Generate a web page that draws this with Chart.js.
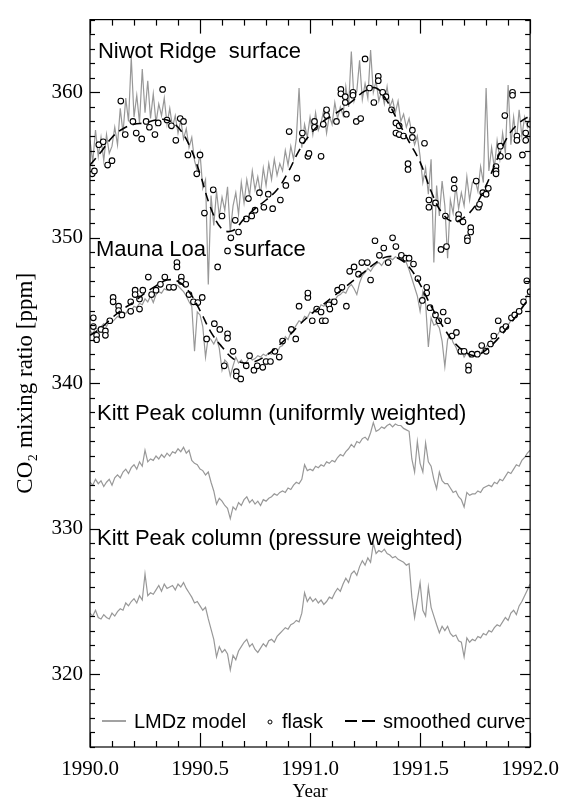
<!DOCTYPE html>
<html>
<head>
<meta charset="utf-8">
<script src="https://cdn.jsdelivr.net/npm/chart.js@4.4.0/dist/chart.umd.min.js"></script>
<style>
  html, body { margin: 0; padding: 0; background: #fff; }
  #wrap { width: 569px; height: 803px; }
</style>
</head>
<body>
<div id="wrap"><canvas id="co2Chart" width="569" height="803"></canvas></div>
<script>
// LMDz model series, one value every 1/80 year from 1990.0 to 1992.0
const MODEL_START = 1990;
const MODEL_STEP = 0.0125;

const niwotModel = [
  356.7, 355.2, 357.4, 355.6, 356.9, 355.3, 357.1, 355.8, 356.3, 357.6,
  356.4, 358.9, 357.2, 359.6, 358.0, 362.4, 358.3, 359.8, 357.9, 361.6,
  358.6, 360.8, 358.2, 359.9, 357.9, 359.2, 358.4, 359.6, 357.8, 358.9,
  357.6, 358.4, 357.2, 358.1, 356.8, 357.5, 356.2, 356.9, 355.3, 354.6,
  355.8, 353.4, 354.0, 346.8, 352.9, 350.85, 353.2, 351.5, 352.8, 351.9,
  353.5, 350.4, 352.2, 353.1, 351.6, 353.8, 352.4, 354.0, 352.9, 354.6,
  353.3, 354.2, 353.0, 354.8, 353.6, 355.1, 354.0, 355.4, 354.3, 355.1,
  354.6, 356.0, 355.0, 356.3, 355.4, 356.8, 360.3, 356.2, 357.8, 356.9,
  358.3, 357.1, 358.6, 357.4, 357.9, 358.8, 357.2, 358.4, 357.8, 359.3,
  358.2, 359.0, 358.4, 360.4, 359.0, 362.8, 359.4, 360.1, 362.2, 359.5,
  360.6, 359.6, 362.9, 360.0, 360.8, 359.4, 360.1, 359.2, 360.4, 359.0,
  359.5, 358.6, 359.4, 358.0, 358.5, 357.6, 358.2, 357.2, 356.4, 357.0,
  355.6, 353.8, 354.8, 353.0, 355.4, 348.3, 353.6, 351.5, 353.9, 352.2,
  348.6, 352.6, 351.7, 353.6, 352.0, 353.1, 352.2, 354.2, 352.6, 353.8,
  354.0, 353.2, 354.9, 353.8, 360.3, 354.6, 356.2, 354.8, 356.7, 355.4,
  357.2, 355.8, 360.5, 356.4, 358.3, 356.6, 358.8, 357.0, 358.3, 357.6,
  358.3
];

const maunaLoaModel = [
  343.6, 343.4, 343.8, 343.7, 343.9, 344.1, 343.9, 344.3, 344.2, 344.4,
  344.6, 344.5, 344.9, 344.8, 345.1, 345.0, 345.3, 345.2, 345.5, 345.4,
  345.8, 345.6, 346.0, 345.55, 346.1, 346.3, 346.2, 346.5, 346.4, 346.7,
  346.6, 346.8, 346.7, 346.5, 346.3, 346.0, 345.6, 345.3, 342.2, 344.9,
  344.7, 343.9, 341.8, 343.2, 343.0, 342.7, 343.1, 342.4, 340.9, 341.6,
  341.4, 340.5, 341.2, 341.8, 341.4, 341.6, 341.3, 341.5, 341.8, 341.6,
  341.7, 341.9, 341.8, 342.0, 341.9, 342.1, 342.0, 342.2, 342.1, 342.5,
  342.6, 343.2, 343.0, 343.5, 343.7, 344.0, 344.3, 344.2, 344.6, 344.5,
  344.9, 344.8, 345.1, 345.0, 345.4, 345.3, 345.6, 345.5, 345.8, 345.7,
  346.0, 346.1, 346.3, 346.2, 346.6, 346.8, 346.5, 346.1, 346.9, 347.4,
  347.6, 347.9, 347.7, 348.0, 348.2, 348.3, 348.1, 348.4, 348.5, 348.6,
  348.5, 348.7, 348.6, 348.7, 348.4, 348.3, 347.8, 347.2, 346.6, 346.0,
  344.95, 346.3, 345.5, 342.5, 344.5, 344.0, 344.1, 343.8, 342.9, 341.15,
  343.0, 343.4, 342.8, 342.5, 342.0, 342.3, 341.8, 342.1, 341.8, 342.0,
  342.1, 342.2, 342.0, 342.4, 342.5, 342.8, 343.0, 343.2, 343.3, 343.6,
  343.7, 343.9, 344.0, 344.3, 344.5, 344.7, 344.8, 345.2, 345.6, 346.1,
  346.3
];

const kittUniformModel = [
  333.2, 333.0, 333.4, 333.1, 333.3, 332.9, 333.2, 333.4, 333.0, 333.5,
  333.7, 333.5, 333.9, 334.1, 333.8, 334.2, 334.4, 334.1, 334.6, 334.3,
  335.4, 334.6, 334.8, 334.7, 335.0, 334.8, 335.1, 334.9, 335.2, 335.0,
  335.3, 335.2, 335.5, 335.3, 335.6, 335.2, 335.4, 334.7, 334.5, 334.4,
  334.1, 334.0, 333.7, 333.9, 333.2, 332.6, 331.7, 332.1, 331.9, 331.6,
  331.4, 330.7, 331.5, 331.3, 331.8, 331.6, 332.0, 332.2, 331.8, 332.0,
  331.7, 331.9, 331.6, 332.0, 331.9, 332.1, 332.2, 332.4, 332.3, 332.5,
  332.6, 332.5, 332.8, 332.7, 333.0, 333.2, 333.1, 333.4, 334.4, 334.0,
  334.1, 334.0, 334.3, 334.2, 334.4, 334.3, 334.6, 334.5, 334.7, 334.6,
  334.9, 335.1, 335.0, 335.3, 335.5, 335.8, 335.6, 336.0, 335.9, 336.2,
  336.3, 336.1, 336.6, 337.3, 336.7, 336.8, 337.0, 336.9, 337.1, 337.2,
  337.0, 337.2, 337.1, 337.1, 336.9, 336.8, 336.7, 334.8, 333.9, 336.0,
  334.5, 333.9, 335.9, 334.6, 334.3, 333.4, 332.75, 333.9, 333.3, 333.1,
  333.1, 332.8, 332.5, 332.6, 332.2, 332.0, 331.5, 332.5, 332.3, 332.4,
  332.4, 332.6, 332.5, 332.8, 332.9, 333.0, 332.9, 333.2, 333.1, 333.4,
  333.3, 333.6, 333.9, 333.8, 334.1, 334.4, 334.3, 334.7, 334.9, 335.2,
  335.4
];

const kittPressureModel = [
  324.2, 324.0, 324.4, 323.9, 323.8, 324.1, 323.9, 323.8, 324.2, 324.0,
  324.3, 324.5, 324.4, 324.9, 324.7, 325.0, 325.2, 324.9, 325.4, 325.1,
  326.9, 325.4, 325.6, 325.5, 325.8, 326.1, 325.7, 326.2, 325.9, 326.0,
  326.1, 325.8, 326.2, 326.0, 326.3, 325.9, 325.6, 325.3, 324.9, 325.0,
  324.7, 324.4, 324.6, 323.8, 323.1, 322.4, 321.2, 321.9, 321.5, 321.7,
  321.4, 320.3, 321.3, 321.0, 321.6, 321.9, 322.2, 322.4, 321.9, 322.1,
  321.7, 321.5, 321.8, 322.1, 321.9, 322.3, 322.4, 322.2, 322.6, 322.8,
  323.0, 323.2, 323.1, 323.4, 323.5, 323.7, 323.6, 324.2, 325.6, 325.0,
  325.3, 325.0, 325.2, 324.9, 325.1, 324.8, 325.0, 325.3, 325.2, 325.6,
  325.9, 325.7, 326.2, 326.6, 326.3, 326.9, 327.1, 326.8, 327.4, 327.8,
  327.5, 328.0, 327.7, 329.0, 328.3, 328.5, 328.4, 328.6, 328.3, 328.2,
  328.0, 328.1, 327.9, 327.8, 327.7, 327.5, 327.6, 325.3, 323.9, 325.1,
  326.3, 324.4, 324.0, 326.0, 324.6, 324.0, 323.4, 322.85, 323.3, 323.0,
  323.3, 322.8, 322.6, 322.7, 322.3, 322.2, 321.2, 322.5, 322.2, 322.4,
  322.3, 322.6, 322.5, 322.8, 322.7, 323.0, 322.9, 323.2, 323.4, 323.3,
  323.6, 323.9, 323.7, 324.2, 324.4, 324.1, 324.7, 325.0, 325.4, 325.8,
  326.2
];

// flask samples
const niwotFlaskYears = [
  1990.01, 1990.02, 1990.04, 1990.06, 1990.08, 1990.10, 1990.14, 1990.16, 1990.195, 1990.21,
  1990.235, 1990.255, 1990.27, 1990.295, 1990.31, 1990.33, 1990.35, 1990.37, 1990.39, 1990.41,
  1990.425, 1990.445, 1990.485, 1990.50, 1990.52, 1990.56, 1990.58, 1990.60, 1990.625, 1990.64,
  1990.66, 1990.675, 1990.71, 1990.72, 1990.735, 1990.75, 1990.77, 1990.79, 1990.81, 1990.83,
  1990.865, 1990.89, 1990.905, 1990.94, 1990.965, 1990.965, 1990.99, 1990.995, 1991.02, 1991.02,
  1991.05, 1991.06, 1991.075, 1991.075, 1991.12, 1991.14, 1991.14, 1991.16, 1991.16, 1991.165,
  1991.195, 1991.195, 1991.21, 1991.23, 1991.25, 1991.27, 1991.29, 1991.31, 1991.31, 1991.33,
  1991.345, 1991.37, 1991.39, 1991.39, 1991.405, 1991.405, 1991.425, 1991.445, 1991.445, 1991.465,
  1991.465, 1991.52, 1991.54, 1991.54, 1991.57, 1991.595, 1991.615, 1991.62, 1991.655, 1991.655,
  1991.675, 1991.675, 1991.695, 1991.715, 1991.715, 1991.73, 1991.73, 1991.755, 1991.765, 1991.77,
  1991.785, 1991.80, 1991.81, 1991.845, 1991.845, 1991.845, 1991.865, 1991.865, 1991.885, 1991.90,
  1991.92, 1991.92, 1991.94, 1991.94, 1991.965, 1991.98, 1991.98, 1992.0
];
const niwotFlaskValues = [
  354.4, 354.6, 356.4, 356.6, 355.0, 355.3, 359.4, 357.1, 358.0, 357.2,
  356.8, 358.0, 357.6, 357.1, 357.9, 360.2, 358.1, 357.7, 356.7, 358.2,
  358.0, 355.7, 354.4, 355.7, 351.7, 353.3, 348.0, 351.5, 349.1, 350.0,
  351.2, 350.4, 351.3, 352.7, 351.5, 351.9, 353.1, 352.1, 353.0, 352.0,
  352.6, 353.6, 357.3, 354.1, 357.2, 356.7, 355.6, 355.8, 358.0, 357.6,
  355.6, 357.8, 358.8, 358.4, 358.0, 360.2, 359.9, 359.7, 359.3, 358.5,
  360.0, 359.8, 358.0, 358.2, 362.3, 360.3, 359.3, 361.1, 360.8, 360.0,
  359.7, 358.8, 357.9, 357.2, 357.7, 357.1, 357.0, 355.1, 354.7, 357.4,
  356.9, 356.5, 352.6, 352.1, 352.4, 349.2, 351.5, 349.4, 354.0, 353.4,
  351.6, 351.3, 351.1, 350.0, 349.8, 350.7, 350.4, 353.9, 352.1, 352.3,
  353.1, 353.0, 353.4, 354.9, 354.6, 354.4, 355.6, 356.3, 358.4, 355.6,
  360.0, 359.8, 357.0, 356.7, 355.7, 357.2, 356.7, 357.8
];

const maunaLoaFlaskYears = [
  1990.015, 1990.015, 1990.03, 1990.03, 1990.05, 1990.07, 1990.07, 1990.09, 1990.105, 1990.105,
  1990.13, 1990.13, 1990.145, 1990.185, 1990.185, 1990.205, 1990.205, 1990.225, 1990.225, 1990.24,
  1990.265, 1990.28, 1990.30, 1990.32, 1990.34, 1990.36, 1990.38, 1990.395, 1990.395, 1990.415,
  1990.415, 1990.435, 1990.45, 1990.47, 1990.49, 1990.51, 1990.53, 1990.565, 1990.59, 1990.61,
  1990.625, 1990.625, 1990.65, 1990.665, 1990.665, 1990.685, 1990.71, 1990.725, 1990.745, 1990.76,
  1990.785, 1990.80, 1990.82, 1990.84, 1990.86, 1990.875, 1990.915, 1990.935, 1990.95, 1990.99,
  1990.99, 1991.01, 1991.03, 1991.05, 1991.055, 1991.07, 1991.085, 1991.09, 1991.11, 1991.125,
  1991.145, 1991.165, 1991.18, 1991.20, 1991.22, 1991.235, 1991.26, 1991.275, 1991.295, 1991.315,
  1991.335, 1991.355, 1991.375, 1991.39, 1991.415, 1991.435, 1991.45, 1991.47, 1991.49, 1991.51,
  1991.53, 1991.53, 1991.545, 1991.57, 1991.585, 1991.605, 1991.625, 1991.645, 1991.665, 1991.685,
  1991.70, 1991.72, 1991.72, 1991.735, 1991.76, 1991.78, 1991.80, 1991.82, 1991.835, 1991.855,
  1991.875, 1991.89, 1991.915, 1991.93, 1991.95, 1991.97, 1991.985, 1992.0
];
const maunaLoaFlaskValues = [
  344.5, 343.9, 343.3, 343.0, 343.7, 343.6, 343.3, 344.3, 345.9, 345.6,
  345.3, 345.0, 344.7, 345.6, 344.95, 346.4, 346.1, 345.8, 345.1, 346.4,
  347.3, 346.1, 346.4, 346.8, 347.3, 346.6, 346.6, 348.3, 348.0, 347.3,
  347.0, 346.8, 346.1, 345.6, 345.55, 345.9, 343.05, 344.1, 343.7, 341.2,
  343.4, 343.1, 342.2, 340.8, 340.5, 340.3, 341.2, 341.9, 340.9, 341.2,
  341.1, 341.5, 341.5, 342.2, 341.8, 342.9, 343.7, 343.05, 345.3, 345.9,
  346.2, 344.3, 345.1, 344.9, 344.3, 344.3, 345.4, 345.1, 345.6, 346.4,
  346.6, 345.3, 347.7, 348.0, 347.5, 348.3, 348.3, 347.1, 349.8, 348.8,
  349.3, 348.3, 350.0, 349.4, 348.8, 348.6, 348.6, 348.2, 347.2, 345.7,
  346.6, 346.2, 345.2, 344.7, 344.3, 344.9, 344.3, 343.25, 343.5, 342.2,
  342.2, 341.2, 340.9, 342.0, 342.0, 342.6, 342.2, 342.7, 343.25, 344.3,
  343.7, 343.9, 344.5, 344.7, 344.95, 345.6, 347.05, 346.3
];

// smoothed curves, one value every 0.05 year
const SMOOTH_STEP = 0.05;
const niwotSmooth = [
  355.0, 355.9, 356.9, 357.5, 357.8, 357.9, 358.1, 358.1, 357.6, 356.4,
  354.4, 352.0, 350.6, 350.5, 351.3, 352.0, 352.6, 353.3, 354.5, 356.0,
  357.1, 357.9, 358.4, 358.9, 359.5, 360.1, 360.3, 359.4, 358.0, 356.6,
  355.2, 353.2, 351.7, 351.1, 351.4, 352.2, 353.6, 355.4, 357.0, 357.9,
  358.4
];
const maunaLoaSmooth = [
  343.3, 343.8, 344.5, 345.1, 345.6, 346.2, 346.7, 347.1, 347.0, 346.3,
  345.0, 343.5, 342.5, 341.7, 341.4, 341.5, 341.9, 342.5, 343.2, 344.0,
  344.7, 345.3, 345.9, 346.5, 347.1, 347.7, 348.3, 348.7, 348.6, 348.0,
  346.8, 345.3, 344.0, 342.9, 342.2, 341.9, 342.3, 343.0, 343.9, 344.9,
  346.0
];

const xTickStep = 0.5;
const yTickStep = 5;   // labels shown on the tens only

const modelPoints = vals => vals.map((v, i) => ({ x: MODEL_START + i * MODEL_STEP, y: v }));
const smoothPoints = vals => vals.map((v, i) => ({ x: MODEL_START + i * SMOOTH_STEP, y: v }));
const flaskPoints = (yrs, vals) => yrs.map((t, i) => ({ x: t, y: vals[i] }));

const GRAY = '#989898';
const SERIF = '"Liberation Serif", "Times New Roman", serif';
const SANS = '"Liberation Sans", Arial, sans-serif';

const modelLine = vals => ({
  data: modelPoints(vals), borderColor: GRAY, borderWidth: 1.2,
  pointRadius: 0, tension: 0, order: 3
});
const smoothLine = vals => ({
  data: smoothPoints(vals), borderColor: '#000', borderWidth: 1.6,
  borderDash: [9, 6], pointRadius: 0, tension: 0.4, order: 1
});
const flaskSet = (yrs, vals) => ({
  data: flaskPoints(yrs, vals), showLine: false, pointStyle: 'circle',
  pointRadius: 2.8, borderWidth: 1.1, borderColor: '#000',
  backgroundColor: '#fff', order: 2
});

// station labels, placed in data coordinates (left x, baseline y)
const labels = [
  { text: 'Niwot Ridge  surface', x: 1990.036, y: 362.35 },
  { text: 'Mauna Loa', x: 1990.027, y: 348.74 },
  { text: 'surface', x: 1990.653, y: 348.74 },
  { text: 'Kitt Peak column (uniformly weighted)', x: 1990.032, y: 337.45 },
  { text: 'Kitt Peak column (pressure weighted)', x: 1990.032, y: 328.88 }
];

const frameAndText = {
  id: 'frameAndText',
  afterDatasetsDraw(chart) {
    const { ctx, chartArea: a, scales: { x, y } } = chart;
    const seg = (x1, y1, x2, y2) => { ctx.beginPath(); ctx.moveTo(x1, y1); ctx.lineTo(x2, y2); ctx.stroke(); };
    ctx.save();
    ctx.strokeStyle = '#000';
    ctx.lineWidth = 1.2;
    ctx.strokeRect(a.left, a.top, a.right - a.left, a.bottom - a.top);
    // minor ticks every 1 ppm, major every 10
    for (let v = Math.ceil(y.min); v <= y.max; v++) {
      const py = Math.round(y.getPixelForValue(v)) + 0.5;
      const len = v % 10 === 0 ? 10 : 5;
      seg(a.left, py, a.left + len, py);
      seg(a.right, py, a.right - len, py);
    }
    // minor ticks every 0.1 yr, major every 0.5
    for (let k = 0; k <= 20; k++) {
      const px = Math.round(x.getPixelForValue(1990 + k * 0.1)) + 0.5;
      const len = k % 5 === 0 ? 14 : 6;
      seg(px, a.bottom, px, a.bottom - len);
      seg(px, a.top, px, a.top + len);
    }

    ctx.fillStyle = '#000';
    ctx.font = '22px ' + SANS;
    ctx.textBaseline = 'alphabetic';
    labels.forEach(l => ctx.fillText(l.text, x.getPixelForValue(l.x), y.getPixelForValue(l.y)));

    // legend
    const ly = 721;
    ctx.font = '20px ' + SANS;
    ctx.strokeStyle = GRAY;
    ctx.lineWidth = 1.8;
    seg(102, ly, 126, ly);
    ctx.fillText('LMDz model', 134, 728);
    ctx.strokeStyle = '#000';
    ctx.lineWidth = 1;
    ctx.beginPath(); ctx.arc(270, ly + 1, 2, 0, Math.PI * 2); ctx.stroke();
    ctx.fillText('flask', 282, 728);
    ctx.lineWidth = 2;
    seg(345, ly, 357, ly);
    seg(362, ly, 375, ly);
    ctx.fillText('smoothed curve', 383, 728);
    ctx.restore();
  }
};

new Chart(document.getElementById('co2Chart'), {
  type: 'line',
  data: {
    datasets: [
      smoothLine(niwotSmooth),
      smoothLine(maunaLoaSmooth),
      flaskSet(niwotFlaskYears, niwotFlaskValues),
      flaskSet(maunaLoaFlaskYears, maunaLoaFlaskValues),
      modelLine(niwotModel),
      modelLine(maunaLoaModel),
      modelLine(kittUniformModel),
      modelLine(kittPressureModel)
    ]
  },
  options: {
    responsive: false,
    animation: false,
    devicePixelRatio: 1,
    layout: { padding: { left: 0, right: 38, top: 12, bottom: 0 } },
    plugins: { legend: { display: false }, tooltip: { enabled: false } },
    scales: {
      x: {
        type: 'linear', min: 1990, max: 1992,
        grid: { display: false, drawTicks: false },
        border: { display: false },
        ticks: {
          stepSize: xTickStep, padding: 10, color: '#000', maxRotation: 0,
          font: { family: SERIF, size: 21 },
          callback: v => v.toFixed(1)
        },
        title: { display: true, text: 'Year', color: '#000', padding: { top: 0, bottom: 0 },
                 font: { family: SERIF, size: 19 } },
        afterFit: s => { s.height = 56; }
      },
      y: {
        min: 315, max: 365,
        grid: { display: false, drawTicks: false },
        border: { display: false },
        ticks: {
          stepSize: yTickStep, padding: 7, color: '#000', autoSkip: false,
          font: { family: SERIF, size: 21 },
          callback: v => (Math.round(v) % 10 === 0 ? String(Math.round(v)) : '')
        },
        title: { display: true, text: 'CO₂ mixing ratio [ppm]', color: '#000',
                 padding: { top: 12, bottom: 0 }, font: { family: SERIF, size: 23 } },
        afterFit: s => { s.width = 90; }
      }
    }
  },
  plugins: [frameAndText]
});
</script>
</body>
</html>
